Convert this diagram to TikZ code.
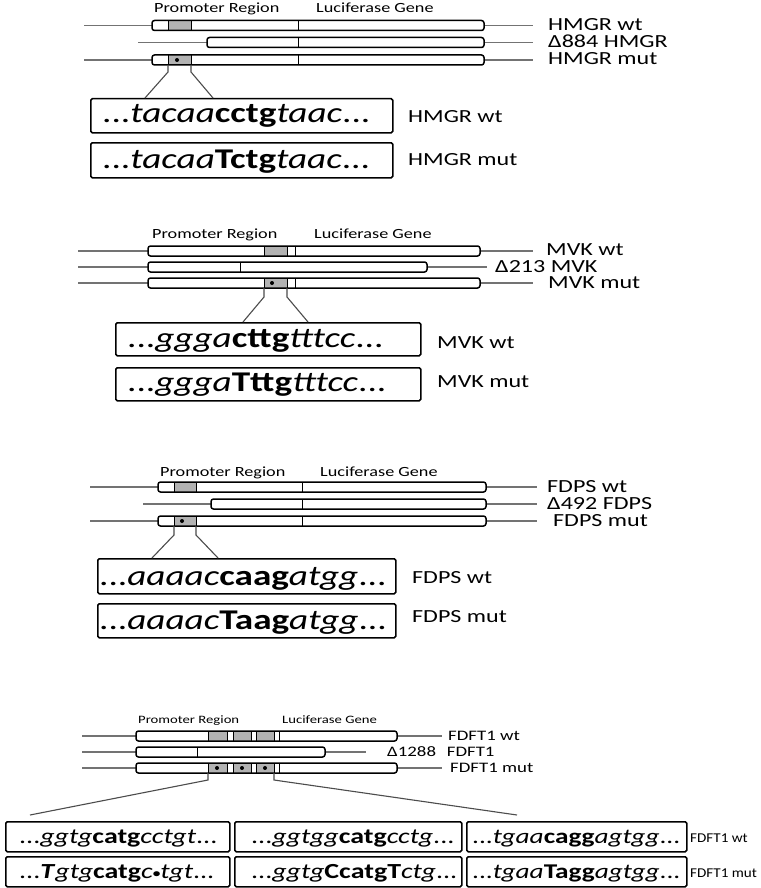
\documentclass[tikz,border=0pt]{standalone}
\usepackage{fontspec}
\setmainfont{Carlito}
\usepackage{graphicx}
\newcommand{\T}[2]{\scalebox{1.3}[1]{\fontsize{#1pt}{#1pt}\selectfont #2}}
\newcommand{\Tn}[3]{\scalebox{#1}[1]{\fontsize{#2pt}{#2pt}\selectfont #3}}
\newcommand{\I}[1]{\textit{#1}}
\newcommand{\B}[1]{\textbf{#1}}
\newcommand{\gwhite}[3]{\fill[white, rounded corners=2.5pt] (#2,#1-5) rectangle (#3,#1+5);}
\newcommand{\gedge}[3]{\draw[gframe] (#2,#1-5) rectangle (#3,#1+5);}
\newcommand{\sh}[3]{\fill[shd] (#2,#1-5) rectangle (#3,#1+5); \draw[sep] (#2,#1-5) -- (#2,#1+5) (#3,#1-5) -- (#3,#1+5);}
\newcommand{\vl}[2]{\draw[sep] (#2,#1-5) -- (#2,#1+5);}
\newcommand{\md}[2]{\fill[black] (#2,#1) circle (2);}
\tikzset{
 flank/.style={draw=black!55, line width=1.3pt},
 gframe/.style={draw=black, line width=1.5pt, rounded corners=2.5pt},
 shd/.style={fill=black!30},
 sep/.style={draw=black, line width=0.9pt},
 conn/.style={draw=black!70, line width=1.1pt},
 seqbox/.style={draw=black, line width=1.5pt, rounded corners=1.5pt, inner sep=0pt, anchor=north west},
 lab/.style={anchor=base west, inner sep=0pt},
}
\begin{document}
\begin{tikzpicture}[x=1pt,y=-1pt]
\fill[white] (0,0) rectangle (760,888);
\useasboundingbox (0,0) rectangle (760,888);

% ================= Panel 1: HMGR =================
\node[lab] (pr1) at (154,13) {\T{14}{Promoter Region}};
\node[lab] (lg1) at (316,13) {\T{14}{Luciferase Gene}};
\draw[flank] (84,25.5) -- (533,25.5);
\gwhite{25.5}{152}{484} \sh{25.5}{168}{191} \vl{25.5}{298} \gedge{25.5}{152}{484}
\draw[flank] (138,42.5) -- (533,42.5);
\gwhite{42.5}{207}{484} \vl{42.5}{298} \gedge{42.5}{207}{484}
\draw[flank] (84,60) -- (533,60);
\gwhite{60}{152}{484} \sh{60}{168}{191} \md{60}{177} \vl{60}{298} \gedge{60}{152}{484}
\node[lab] (r1a) at (548,30.5) {\T{18.5}{HMGR wt}};
\node[lab] (r1b) at (548,47.5) {\T{18.5}{Δ884 HMGR}};
\node[lab] (r1c) at (548,65) {\T{18.5}{HMGR mut}};
\node[seqbox, minimum width=302pt, minimum height=34pt] (s1a) at (90,98) {};
\node[seqbox, minimum width=302pt, minimum height=35pt] (s1b) at (90,142) {};
\coordinate (k1a) at (168,65); \coordinate (k1b) at (168,72); \coordinate (k1c) at (145,98);
\coordinate (k1d) at (191,65); \coordinate (k1e) at (191,72); \coordinate (k1f) at (213,98);
\draw[conn] (k1a) -- (k1b) -- (k1c);
\draw[conn] (k1d) -- (k1e) -- (k1f);
\node[lab] (t1a) at (102,123) {\T{28.6}{...\I{tacaa}\B{cctg}\I{taac}...}};
\node[lab] (t1b) at (102,168) {\T{28.6}{...\I{tacaa}\B{Tctg}\I{taac}...}};
\node[lab] (q1a) at (408,123) {\T{18.5}{HMGR wt}};
\node[lab] (q1b) at (408,165) {\T{18.5}{HMGR mut}};

% ================= Panel 2: MVK =================
\node[lab] (pr2) at (152,238) {\T{14}{Promoter Region}};
\node[lab] (lg2) at (314,238) {\T{14}{Luciferase Gene}};
\draw[flank] (78,251) -- (533,251);
\gwhite{251}{148}{480} \sh{251}{264}{287} \vl{251}{295} \gedge{251}{148}{480}
\draw[flank] (78,267) -- (487,267);
\gwhite{267}{148}{427} \vl{267}{240} \gedge{267}{148}{427}
\draw[flank] (78,283) -- (533,283);
\gwhite{283}{148}{480} \sh{283}{264}{287} \md{283}{272} \vl{283}{295} \gedge{283}{148}{480}
\node[lab] (r2a) at (546,255.5) {\T{18.5}{MVK wt}};
\node[lab] (r2b) at (495,272) {\T{18.5}{Δ213 MVK}};
\node[lab] (r2c) at (548,288) {\T{18.5}{MVK mut}};
\node[seqbox, minimum width=305pt, minimum height=33pt] (s2a) at (115,322) {};
\node[seqbox, minimum width=305pt, minimum height=33pt] (s2b) at (115,367) {};
\coordinate (k2a) at (264,288); \coordinate (k2b) at (264,297); \coordinate (k2c) at (243,322);
\coordinate (k2d) at (287,288); \coordinate (k2e) at (287,297); \coordinate (k2f) at (308,322);
\draw[conn] (k2a) -- (k2b) -- (k2c);
\draw[conn] (k2d) -- (k2e) -- (k2f);
\node[lab] (t2a) at (127,347) {\T{28.6}{...\I{ggga}\B{cttg}\I{tttcc}...}};
\node[lab] (t2b) at (127,391) {\T{28.6}{...\I{ggga}\B{Tttg}\I{tttcc}...}};
\node[lab] (q2a) at (437,348) {\T{18.5}{MVK wt}};
\node[lab] (q2b) at (437,387) {\T{18.5}{MVK mut}};

% ================= Panel 3: FDPS =================
\node[lab] (pr3) at (160,476) {\T{14}{Promoter Region}};
\node[lab] (lg3) at (320,476) {\T{14}{Luciferase Gene}};
\draw[flank] (90,487) -- (537,487);
\gwhite{487}{158}{486} \sh{487}{174}{196} \vl{487}{302} \gedge{487}{158}{486}
\draw[flank] (143,504) -- (537,504);
\gwhite{504}{211}{486} \vl{504}{302} \gedge{504}{211}{486}
\draw[flank] (90,521) -- (537,521);
\gwhite{521}{158}{486} \sh{521}{174}{196} \md{521}{182} \vl{521}{302} \gedge{521}{158}{486}
\node[lab] (r3a) at (547,492) {\T{18.5}{FDPS wt}};
\node[lab] (r3b) at (547,509) {\T{18.5}{Δ492 FDPS}};
\node[lab] (r3c) at (553,526) {\T{18.5}{FDPS mut}};
\node[seqbox, minimum width=298pt, minimum height=35pt] (s3a) at (97,558) {};
\node[seqbox, minimum width=298pt, minimum height=34pt] (s3b) at (97,603) {};
\coordinate (k3a) at (174,526); \coordinate (k3b) at (174,535); \coordinate (k3c) at (152,558);
\coordinate (k3d) at (196,526); \coordinate (k3e) at (196,535); \coordinate (k3f) at (218,558);
\draw[conn] (k3a) -- (k3b) -- (k3c);
\draw[conn] (k3d) -- (k3e) -- (k3f);
\node[lab] (t3a) at (99,585) {\T{28.6}{...\I{aaaac}\B{caag}\I{atgg}...}};
\node[lab] (t3b) at (99,629) {\T{28.6}{...\I{aaaac}\B{Taag}\I{atgg}...}};
\node[lab] (q3a) at (412,583) {\T{18.5}{FDPS wt}};
\node[lab] (q3b) at (412,622) {\T{18.5}{FDPS mut}};

% ================= Panel 4: FDFT1 =================
\node[lab] (pr4) at (138,723) {\T{11.3}{Promoter Region}};
\node[lab] (lg4) at (282,723) {\T{11.3}{Luciferase Gene}};
\draw[flank] (82,736) -- (442,736);
\gwhite{736}{136}{397} \sh{736}{208}{227} \sh{736}{233}{251} \sh{736}{256}{274} \vl{736}{279} \gedge{736}{136}{397}
\draw[flank] (82,752) -- (366,752);
\gwhite{752}{136}{325} \vl{752}{197} \gedge{752}{136}{325}
\draw[flank] (82,768) -- (442,768);
\gwhite{768}{136}{397} \sh{768}{208}{227} \sh{768}{233}{251} \sh{768}{256}{274} \md{768}{217} \md{768}{242} \md{768}{265} \vl{768}{279} \gedge{768}{136}{397}
\node[lab] (r4a) at (448,740) {\T{14.5}{FDFT1 wt}};
\node[lab] (r4b) at (387,756) {\T{14.5}{Δ1288\hspace{0.35em} FDFT1}};
\node[lab] (r4c) at (450,772) {\T{14.5}{FDFT1 mut}};
\coordinate (k4a) at (208,773); \coordinate (k4b) at (208,780); \coordinate (k4c) at (30,815);
\coordinate (k4d) at (274,773); \coordinate (k4e) at (274,780); \coordinate (k4f) at (517,815);
\draw[conn] (k4a) -- (k4b) -- (k4c);
\draw[conn] (k4d) -- (k4e) -- (k4f);
\node[seqbox, minimum width=224pt, minimum height=30pt] (s4a) at (5,821) {};
\node[seqbox, minimum width=227pt, minimum height=30pt] (s4b) at (234,821) {};
\node[seqbox, minimum width=220pt, minimum height=30pt] (s4c) at (466,821) {};
\node[seqbox, minimum width=224pt, minimum height=30pt] (s4d) at (5,856) {};
\node[seqbox, minimum width=227pt, minimum height=30pt] (s4e) at (234,856) {};
\node[seqbox, minimum width=220pt, minimum height=30pt] (s4f) at (466,856) {};
\node[lab] (t4a) at (19,843) {\T{21.5}{...\I{ggtg}\B{catg}\I{cctgt}...}};
\node[lab] (t4b) at (251,843) {\T{21.5}{...\I{ggtgg}\B{catg}\I{cctg}...}};
\node[lab] (t4c) at (472,843) {\T{21}{...\I{tgaa}\B{cagg}\I{agtgg}...}};
\node[lab] (t4d) at (19,878) {\T{21.5}{...\B{\I{T}}\I{gtg}\B{catg}\I{c}\raisebox{1pt}{\scalebox{0.55}{\B{•}}}\I{tgt}...}};
\node[lab] (t4e) at (251,878) {\T{21.5}{...\I{ggtg}\B{Ccatg}\B{T}\I{ctg}...}};
\node[lab] (t4f) at (472,878) {\T{21}{...\I{tgaa}\B{Tagg}\I{agtgg}...}};
\node[lab] (q4a) at (690,842) {\Tn{1.12}{13.5}{FDFT1 wt}};
\node[lab] (q4b) at (690,877) {\Tn{1.12}{13.5}{FDFT1 mut}};
\end{tikzpicture}
\end{document}
